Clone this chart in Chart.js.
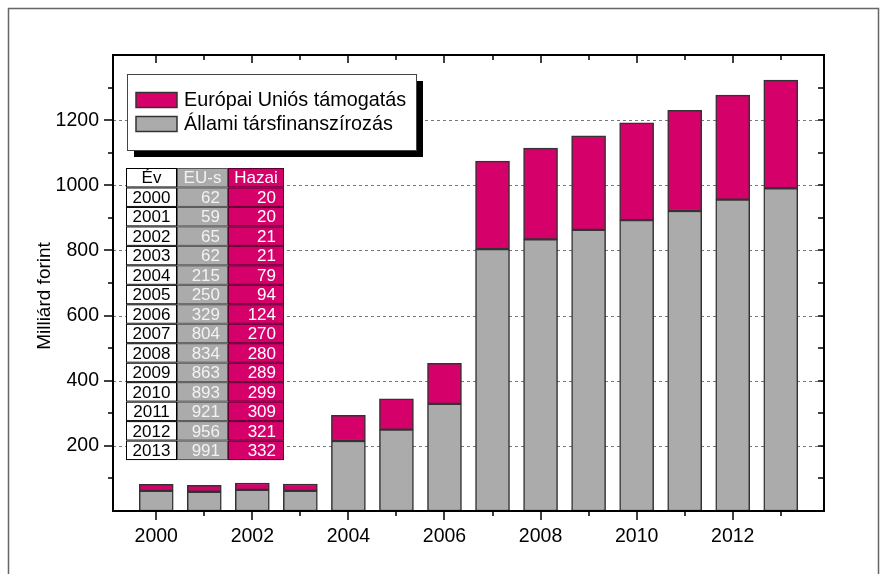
<!DOCTYPE html>
<html>
<head>
<meta charset="utf-8">
<script src="https://cdn.jsdelivr.net/npm/chart.js@4/dist/chart.umd.min.js"></script>
<style>body{margin:0;background:#fff}</style>
</head>
<body>
<canvas id="chart" width="883" height="574"></canvas>
<script>
const years = [2000, 2001, 2002, 2003, 2004, 2005, 2006, 2007, 2008, 2009, 2010, 2011, 2012, 2013];
const euValues = [62, 59, 65, 62, 215, 250, 329, 804, 834, 863, 893, 921, 956, 991];
const hazaiValues = [20, 20, 21, 21, 79, 94, 124, 270, 280, 289, 299, 309, 321, 332];
const xTickLabels = [2000, 2002, 2004, 2006, 2008, 2010, 2012];
const yTickLabels = [200, 400, 600, 800, 1000, 1200];
const seriesNames = ['Állami társfinanszírozás', 'Európai Uniós támogatás'];
const tableHeader = ['Év', 'EU-s', 'Hazai'];
const yTitle = 'Milliárd forint';

const GRAY = '#ababab';
const MAGENTA = '#d5006a';
const FONT = '"Liberation Sans", Arial, sans-serif';

function line(ctx, x1, y1, x2, y2) {
  ctx.beginPath();
  ctx.moveTo(x1, y1);
  ctx.lineTo(x2, y2);
  ctx.stroke();
}

const decor = {
  id: 'decor',
  beforeDraw(chart) {
    const ctx = chart.ctx;
    ctx.save();
    ctx.fillStyle = '#fff';
    ctx.fillRect(0, 0, chart.width, chart.height);
    // outer frame
    ctx.strokeStyle = '#666';
    ctx.lineWidth = 1.5;
    ctx.strokeRect(8.5, 8.5, 870, 600);
    // y axis title (sits a bit below the plot centre in the original)
    ctx.translate(45, 296);
    ctx.rotate(-Math.PI / 2);
    ctx.fillStyle = '#000';
    ctx.font = '19px ' + FONT;
    ctx.textAlign = 'center';
    ctx.textBaseline = 'middle';
    ctx.fillText(yTitle, 0, 0);
    ctx.restore();
  },
  beforeDatasetsDraw(chart) {
    const { ctx, chartArea: a, scales: { y } } = chart;
    ctx.save();
    ctx.strokeStyle = '#777';
    ctx.lineWidth = 1;
    ctx.setLineDash([3, 3]);
    yTickLabels.forEach(v => {
      const py = Math.round(y.getPixelForValue(v)) + 0.5;
      line(ctx, a.left, py, a.right, py);
    });
    ctx.restore();
  },
  afterDatasetsDraw(chart) {
    const { ctx, chartArea: a, scales: { x, y } } = chart;
    ctx.save();
    // ticks
    ctx.strokeStyle = '#000';
    ctx.lineWidth = 1.5;
    years.forEach(yr => {
      const px = Math.round(x.getPixelForValue(yr));
      const major = xTickLabels.includes(yr);
      line(ctx, px, a.bottom, px, a.bottom + (major ? 9 : 5));
      line(ctx, px, a.top, px, a.top + (major ? 8 : 5));
    });
    for (let v = 100; v < 1400; v += 100) {
      const py = Math.round(y.getPixelForValue(v));
      const major = v % 200 === 0;
      line(ctx, a.left, py, a.left - (major ? 9 : 5), py);
      line(ctx, a.right, py, a.right - 6, py);
    }
    // axes box
    ctx.lineWidth = 2;
    ctx.strokeRect(a.left, a.top, a.right - a.left, a.bottom - a.top);

    // legend
    const lx = 127, ly = 74, lw = 289, lh = 76;
    ctx.fillStyle = '#000';
    ctx.fillRect(lx + 7, ly + 7, lw, lh);
    ctx.fillStyle = '#fff';
    ctx.fillRect(lx, ly, lw, lh);
    ctx.strokeStyle = '#444';
    ctx.lineWidth = 1;
    ctx.strokeRect(lx + 0.5, ly + 0.5, lw, lh);
    const ds = chart.data.datasets.slice().reverse();
    ctx.font = '19.8px ' + FONT;
    ctx.textBaseline = 'middle';
    ds.forEach((d, i) => {
      const ry = ly + 26 + i * 24;
      ctx.fillStyle = d.backgroundColor;
      ctx.fillRect(136, ry - 7.5, 41, 15);
      ctx.strokeStyle = '#333';
      ctx.lineWidth = 1.5;
      ctx.strokeRect(136, ry - 7.5, 41, 15);
      ctx.fillStyle = '#000';
      ctx.fillText(d.label, 184, ry + 1);
    });

    // data table
    const cols = [126, 177, 228, 284];
    const top = 168, rh = 19.47;
    const fills = ['#fff', GRAY, MAGENTA];
    const textCol = ['#000', '#f2f2f2', '#fff'];
    const borderCol = ['#000', '#555', '#5a0030'];
    const rows = [tableHeader].concat(years.map((yr, i) => [yr, euValues[i], hazaiValues[i]]));
    ctx.font = '17px ' + FONT;
    rows.forEach((r, ri) => {
      const ty = top + ri * rh;
      r.forEach((val, ci) => {
        const cx = cols[ci], cw = cols[ci + 1] - cols[ci];
        ctx.fillStyle = fills[ci];
        ctx.fillRect(cx, ty, cw, rh);
        ctx.strokeStyle = borderCol[ci];
        ctx.lineWidth = 1;
        ctx.strokeRect(cx + 0.5, ty + 0.5, cw - 1, rh - 1);
        ctx.fillStyle = textCol[ci];
        if (ci === 0 || ri === 0) {
          ctx.textAlign = 'center';
          ctx.fillText(String(val), cx + cw / 2, ty + rh / 2 + 1);
        } else {
          ctx.textAlign = 'right';
          ctx.fillText(String(val), cx + cw - 8, ty + rh / 2 + 1);
        }
      });
    });
    ctx.restore();
  }
};

new Chart(document.getElementById('chart'), {
  type: 'bar',
  data: {
    datasets: [
      {
        label: seriesNames[0],
        data: years.map((yr, i) => ({ x: yr, y: euValues[i] })),
        backgroundColor: GRAY,
        borderColor: '#333',
        borderWidth: 1.5,
        borderSkipped: false,
        barThickness: 34
      },
      {
        label: seriesNames[1],
        data: years.map((yr, i) => ({ x: yr, y: hazaiValues[i] })),
        backgroundColor: MAGENTA,
        borderColor: '#333',
        borderWidth: 1.5,
        borderSkipped: false,
        barThickness: 34
      }
    ]
  },
  options: {
    responsive: false,
    animation: false,
    layout: { padding: { left: 0, top: 55, right: 59, bottom: 0 } },
    plugins: { legend: { display: false }, tooltip: { enabled: false } },
    scales: {
      x: {
        type: 'linear',
        stacked: true,
        offset: false,
        min: years[0] - 0.9,
        max: years[years.length - 1] + 0.9,
        grid: { display: false, drawTicks: false },
        border: { display: false },
        afterBuildTicks: s => { s.ticks = xTickLabels.map(v => ({ value: v })); },
        afterFit: s => { s.height = 63; },
        ticks: {
          padding: 14,
          color: '#000',
          font: { family: FONT, size: 19.5 },
          callback: v => String(v)
        }
      },
      y: {
        stacked: true,
        min: 0,
        max: 1400,
        grid: { display: false, drawTicks: false },
        border: { display: false },
        afterBuildTicks: s => { s.ticks = yTickLabels.map(v => ({ value: v })); },
        afterFit: s => { s.width = 113; },
        ticks: {
          padding: 14,
          color: '#000',
          font: { family: FONT, size: 19.5 },
          callback: v => String(v)
        }
      }
    }
  },
  plugins: [decor]
});
</script>
</body>
</html>
